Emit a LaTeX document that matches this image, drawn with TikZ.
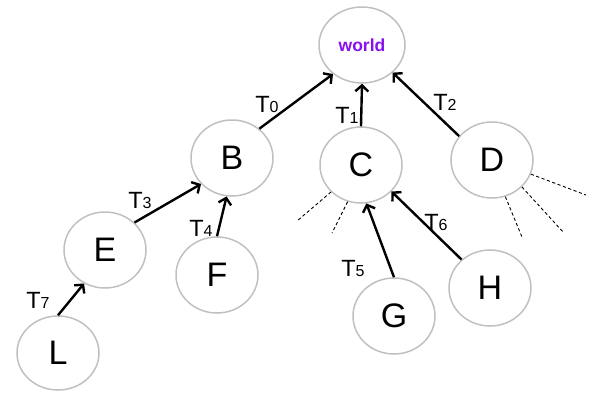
\documentclass[tikz,border=0pt]{standalone}
\usepackage{fontspec}
\setmainfont{Liberation Sans}
\usetikzlibrary{arrows.meta,shapes.geometric}
\definecolor{ringgray}{RGB}{192,192,192}
\definecolor{worldviolet}{RGB}{136,16,240}
\tikzset{
  vertex/.style={ellipse, draw=ringgray, line width=1.5pt, minimum width=82pt, minimum height=76pt,
    inner sep=0pt, font=\fontsize{34}{34}\selectfont},
  link/.style={line width=2.4pt, -{Straight Barb[length=6pt,width=13pt]}},
  tlabel/.style={inner sep=0pt, font=\fontsize{23.5}{24}\selectfont},
  hint/.style={line width=0.9pt, dash pattern=on 3.2pt off 2.5pt}
}
\newcommand{\tl}[1]{T{\fontsize{16}{16}\selectfont #1}}
\begin{document}
\begin{tikzpicture}[x=1pt,y=-1pt]
  \useasboundingbox (0,0) rectangle (595,392);
  % nodes of the tree
  \node[vertex, minimum width=86pt, minimum height=76pt] (world) at (362,45)
    {\fontsize{17.5}{18}\selectfont\bfseries\color{worldviolet}world};
  \node[vertex] (B) at (232,158) {B};
  \node[vertex] (C) at (361,165) {C};
  \node[vertex] (D) at (492,160) {D};
  \node[vertex] (E) at (105,250) {E};
  \node[vertex] (F) at (217,275) {F};
  \node[vertex] (G) at (394,316) {G};
  \node[vertex] (H) at (490,288) {H};
  \node[vertex, minimum height=74pt] (L) at (58,353) {L};
  % parent links
  \draw[link] (B.47) -- (world.225);
  \draw[link] (C.north) -- (world.south);
  \draw[link] (D.144) -- (world.318);
  \draw[link] (E.43) -- (B.220);
  \draw[link] (F.north) -- (B.262);
  \draw[link] (L.north) -- (E.238);
  \draw[link] (G.north) -- (C.278);
  \draw[link] (H.135) -- (C.319);
  % link labels
  \node[tlabel] (t0) at (267,104) {\tl{0}};
  \node[tlabel] (t1) at (347,115) {\tl{1}};
  \node[tlabel] (t2) at (445,102) {\tl{2}};
  \node[tlabel] (t3) at (140,200) {\tl{3}};
  \node[tlabel] (t4) at (201,228) {\tl{4}};
  \node[tlabel] (t5) at (353,268) {\tl{5}};
  \node[tlabel] (t6) at (436,222) {\tl{6}};
  \node[tlabel] (t7) at (38,300) {\tl{7}};
  % further children, hinted
  \coordinate (c1) at (297,221);
  \coordinate (c2) at (332,233);
  \coordinate (d1) at (522,237);
  \coordinate (d2) at (564,233);
  \coordinate (d3) at (586,195);
  \draw[hint] (C.222) -- (c1);
  \draw[hint] (C.250) -- (c2);
  \draw[hint] (D.290) -- (d1);
  \draw[hint] (D.318) -- (d2);
  \draw[hint] (D.340) -- (d3);
\end{tikzpicture}
\end{document}
